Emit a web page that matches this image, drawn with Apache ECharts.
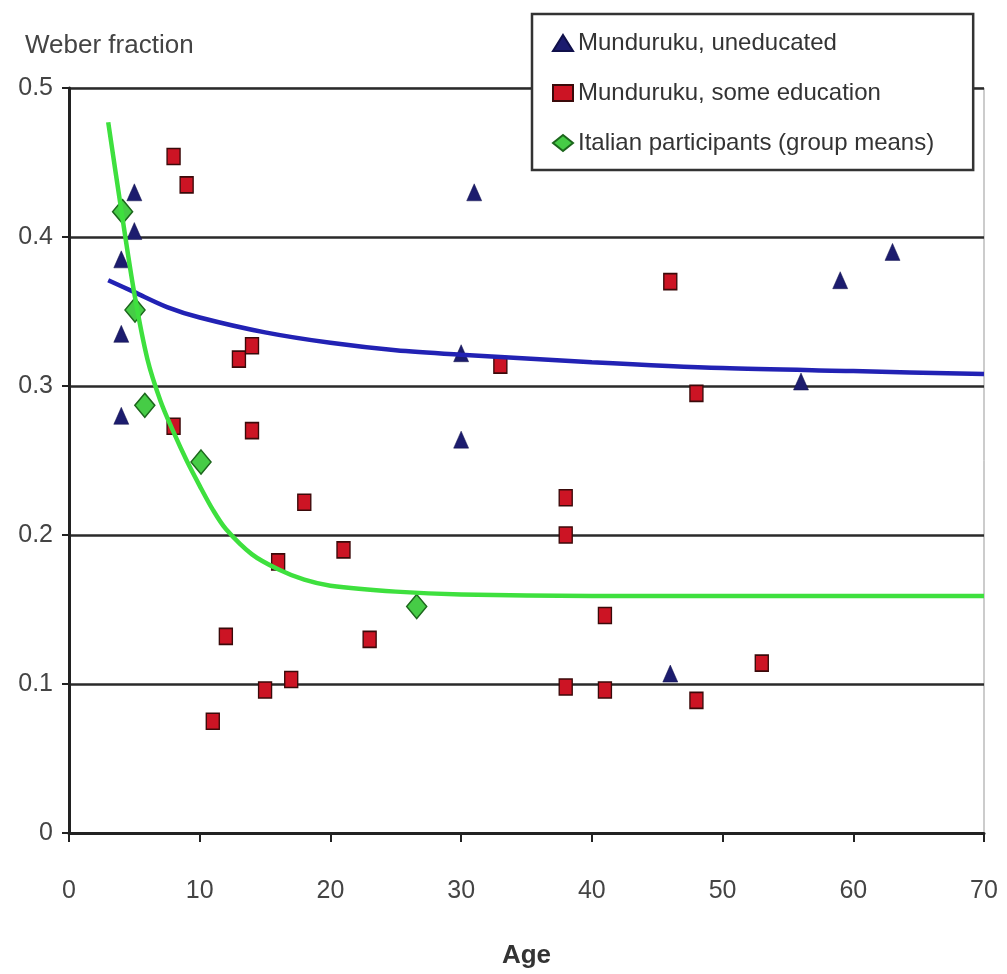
<!DOCTYPE html>
<html>
<head>
<meta charset="utf-8">
<script src="https://cdn.jsdelivr.net/npm/echarts@6/dist/echarts.min.js"></script>
<style>
  html, body { margin: 0; padding: 0; background: #ffffff; }
  #chart { width: 1007px; height: 974px; }
</style>
</head>
<body>
<div id="chart"></div>
<script>
// Weber fraction by age: individual Munduruku participants and Italian group means
const uneducated = [
  [5, 0.430], [5, 0.404], [4, 0.385], [4, 0.335], [4, 0.280],
  [31, 0.430], [30, 0.322], [30, 0.264], [59, 0.371], [63, 0.390],
  [56, 0.303], [46, 0.107]
];
const someEducation = [
  [8, 0.454], [9, 0.435], [13, 0.318], [14, 0.327], [8, 0.273],
  [14, 0.270], [18, 0.222], [16, 0.182], [21, 0.190], [33, 0.314],
  [46, 0.370], [48, 0.295], [38, 0.225], [38, 0.200], [41, 0.146],
  [12, 0.132], [23, 0.130], [11, 0.075], [15, 0.096], [17, 0.103],
  [38, 0.098], [41, 0.096], [48, 0.089], [53, 0.114]
];
const italianMeans = [
  [4.1, 0.417], [5.05, 0.351], [5.8, 0.287], [10.1, 0.249], [26.6, 0.152]
];
// fitted trend curves, sampled along the plotted lines
const uneducatedFit = [
  [3, 0.371], [5, 0.363], [7.5, 0.353], [10, 0.346], [15, 0.336], [20, 0.329],
  [25, 0.324], [30, 0.321], [40, 0.316], [50, 0.312], [60, 0.310], [70, 0.308]
];
const italianFit = [
  [3, 0.477], [4, 0.418], [5, 0.362], [6, 0.318], [7, 0.290], [8, 0.269],
  [9, 0.250], [10, 0.233], [11, 0.217], [12, 0.204], [14, 0.187], [16, 0.177],
  [18, 0.170], [20, 0.166], [25, 0.162], [30, 0.160], [40, 0.159], [70, 0.159]
];
const seriesNames = [
  'Munduruku, uneducated',
  'Munduruku, some education',
  'Italian participants (group means)'
];
const ageTicks = { min: 0, max: 70, interval: 10 };
const fractionTicks = { min: 0, max: 0.5, interval: 0.1 };

const FONT = '"Liberation Sans", Arial, sans-serif';
const chart = echarts.init(document.getElementById('chart'), null, { renderer: 'canvas' });

chart.setOption({
  backgroundColor: '#ffffff',
  animation: false,
  title: {
    text: 'Weber fraction',
    left: 20,
    top: 28,
    textStyle: { fontFamily: FONT, fontSize: 26, fontWeight: 'normal', color: '#444' }
  },
  legend: {
    data: seriesNames,
    orient: 'vertical',
    left: 532,
    top: 14,
    padding: [17, 39, 15, 20],
    itemGap: 26,
    itemWidth: 20,
    itemHeight: 16,
    backgroundColor: '#ffffff',
    borderColor: '#333',
    borderWidth: 2.5,
    textStyle: { fontFamily: FONT, fontSize: 24, color: '#333' }
  },
  grid: {
    left: 69, right: 23, top: 88, bottom: 137,
    show: true, borderColor: '#999', borderWidth: 1, backgroundColor: 'transparent'
  },
  xAxis: {
    type: 'value',
    min: ageTicks.min, max: ageTicks.max, interval: ageTicks.interval,
    name: 'Age',
    nameLocation: 'middle',
    nameGap: 110,
    nameTextStyle: { fontFamily: FONT, fontSize: 26, fontWeight: 'bold', color: '#333' },
    axisLine: { show: true, lineStyle: { color: '#222', width: 3 } },
    axisTick: { show: true, inside: false, length: 9, lineStyle: { color: '#222', width: 2 } },
    axisLabel: { fontFamily: FONT, fontSize: 25, color: '#444', margin: 46 },
    splitLine: { show: false }
  },
  yAxis: {
    type: 'value',
    min: fractionTicks.min, max: fractionTicks.max, interval: fractionTicks.interval,
    axisLine: { show: true, lineStyle: { color: '#222', width: 3 } },
    axisTick: { show: true, inside: false, length: 7, lineStyle: { color: '#222', width: 2 } },
    axisLabel: { fontFamily: FONT, fontSize: 25, color: '#444', margin: 16, padding: [10, 0, 0, 0] },
    splitLine: { show: true, lineStyle: { color: '#2a2a2a', width: 2.5 } }
  },
  series: [
    {
      name: seriesNames[0],
      type: 'scatter',
      symbol: 'triangle',
      symbolSize: [15, 17],
      itemStyle: { color: '#1c1c6e', borderColor: '#10104a', borderWidth: 0.5, opacity: 1 },
      data: uneducated,
      z: 3
    },
    {
      name: seriesNames[1],
      type: 'scatter',
      symbol: 'rect',
      symbolSize: [13, 16],
      itemStyle: { color: '#cc1424', borderColor: '#3a0a0a', borderWidth: 1.5, opacity: 1 },
      data: someEducation,
      z: 3
    },
    {
      name: seriesNames[2],
      type: 'scatter',
      symbol: 'diamond',
      symbolSize: [20, 24],
      itemStyle: { color: '#46cc46', borderColor: '#1c661c', borderWidth: 1.5, opacity: 1 },
      data: italianMeans,
      z: 3
    },
    {
      name: 'uneducated fit',
      type: 'line',
      data: uneducatedFit,
      smooth: 0.3,
      showSymbol: false,
      silent: true,
      lineStyle: { color: '#2222b4', width: 4.5 },
      z: 4
    },
    {
      name: 'italian fit',
      type: 'line',
      data: italianFit,
      smooth: 0.3,
      showSymbol: false,
      silent: true,
      lineStyle: { color: '#3ee03e', width: 4.5 },
      z: 4
    }
  ]
});
</script>
</body>
</html>
